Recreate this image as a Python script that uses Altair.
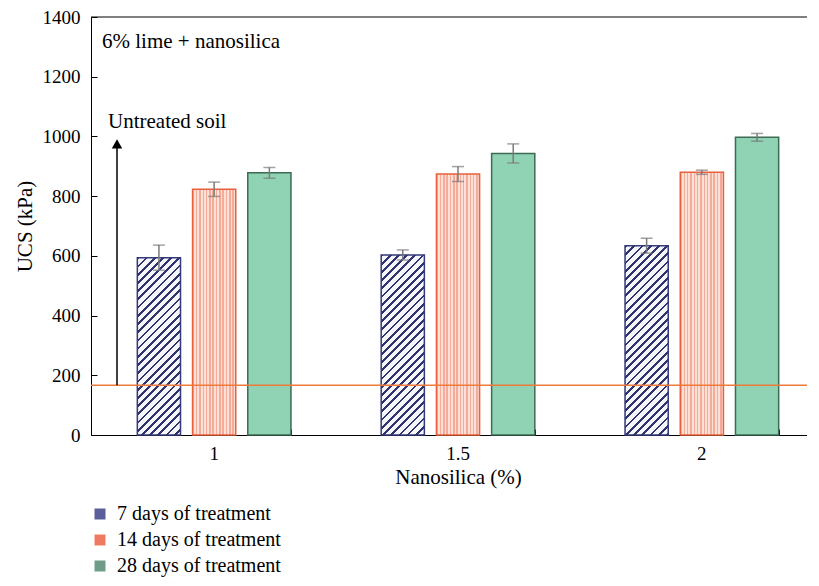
import altair as alt
import pandas as pd

# ---- data ----
nanosilica = ["1", "1.5", "2"]
series = ["7 days of treatment", "14 days of treatment", "28 days of treatment"]
ucs_7 = [594, 603, 634]
err_7 = [42, 17, 25]
ucs_14 = [823, 874, 880]
err_14 = [24, 25, 7]
ucs_28 = [878, 943, 997]
err_28 = [18, 32, 13]
untreated_ucs = 167
y_ticks = [0, 200, 400, 600, 800, 1000, 1200, 1400]
panel_label = "6% lime + nanosilica"
untreated_label = "Untreated soil"
arrow_top = 975
panel_label_y = 1316
untreated_label_y = 1048

rows = []
for s, vals, errs in zip(series, [ucs_7, ucs_14, ucs_28], [err_7, err_14, err_28]):
    for n, v, e in zip(nanosilica, vals, errs):
        rows.append({"Nanosilica": n, "Treatment": s, "UCS": v, "lo": v - e, "hi": v + e})
df = pd.DataFrame(rows)

# ---- style ----
W, H = 716, 418
X_RANGE = 734          # category axis continues past the visible frame (cropped figure)
FONT = "Liberation Serif"
Y_MAX = 1400
X_PAD_IN, X_PAD_OUT = 0.37, 0.19
OFF_PAD_IN = 0.218
legend_colors = ["#5a5f9a", "#ef7a62", "#6f9c88"]

step = X_RANGE / (len(nanosilica) - X_PAD_IN + 2 * X_PAD_OUT)
band = step * (1 - X_PAD_IN)
bar_w = band / (len(series) - OFF_PAD_IN) * (1 - OFF_PAD_IN)

x_scale = alt.Scale(domain=nanosilica, range=[0, X_RANGE],
                    paddingInner=X_PAD_IN, paddingOuter=X_PAD_OUT)
off_scale = alt.Scale(domain=series, paddingInner=OFF_PAD_IN, paddingOuter=0)
y_scale = alt.Scale(domain=[0, Y_MAX], nice=False)


def xenc(axis=None):
    return alt.X("Nanosilica:N", sort=nanosilica, scale=x_scale, axis=axis)


xoff = alt.XOffset("Treatment:N", sort=series, scale=off_scale)


def hatch_gradient(value):
    # diagonal "/" stripes at 45 degrees for a bar of this height
    h = value * H / Y_MAX
    r = h / bar_w
    span = bar_w * (1 + r * r)
    d = 5.8  # stripe period in px
    T = d * 2 ** 0.5 / span
    tmax = (bar_w + h) / span * 1.05
    dark, light = "#2e3470", "#f6f6fa"
    stops = []
    k = 0
    while k * T < min(tmax, 1) and (k + 1) * T <= 1:
        a = k * T
        b = a + 0.34 * T
        c = (k + 1) * T
        stops += [alt.GradientStop(offset=a, color=dark), alt.GradientStop(offset=b, color=dark),
                  alt.GradientStop(offset=b, color=light), alt.GradientStop(offset=c, color=light)]
        k += 1
    return alt.LinearGradient(gradient="linear", x1=0, y1=0, x2=1, y2=r, stops=stops)


def vstripe_gradient():
    n = 13
    T = 1.0 / n
    dark, light = "#f4ac9a", "#fde0d7"
    stops = []
    for k in range(n):
        a = k * T
        b = a + 0.45 * T
        c = (k + 1) * T
        stops += [alt.GradientStop(offset=a, color=dark), alt.GradientStop(offset=b, color=dark),
                  alt.GradientStop(offset=b, color=light), alt.GradientStop(offset=c, color=light)]
    return alt.LinearGradient(gradient="linear", x1=0, y1=0, x2=1, y2=0, stops=stops)


base = alt.Chart(df)

bars = base.mark_bar().encode(
    x=xenc(alt.Axis(title="Nanosilica (%)", labelAngle=0, tickSize=0, labelPadding=9,
                    titlePadding=3, domainColor="black")),
    xOffset=xoff,
    y=alt.Y("UCS:Q", scale=y_scale, stack=None,
            axis=alt.Axis(values=y_ticks, format="d", tickSize=0, labelPadding=11,
                          title="UCS (kPa)", titlePadding=7, domainColor="black", grid=False)),
    fill=alt.Fill("Treatment:N", sort=series,
                  scale=alt.Scale(domain=series, range=legend_colors),
                  legend=alt.Legend(orient="none", legendX=-1, legendY=487, direction="vertical",
                                    title=None, symbolType="square", symbolSize=121,
                                    symbolStrokeWidth=0, labelFont=FONT, labelFontSize=20,
                                    labelColor="black", labelOffset=7, rowPadding=6,
                                    labelLimit=400)),
)

layers = [bars]

# 7-day hatched overlays, one per bar
for n, v in zip(nanosilica, ucs_7):
    layers.append(
        base.transform_filter((alt.datum.Treatment == series[0]) & (alt.datum.Nanosilica == n))
        .mark_bar(fill=hatch_gradient(v), stroke="#343a7a", strokeWidth=1.5)
        .encode(x=xenc(), xOffset=xoff, y=alt.Y("UCS:Q", scale=y_scale, stack=None, axis=None))
    )

layers.append(
    base.transform_filter(alt.datum.Treatment == series[1])
    .mark_bar(fill=vstripe_gradient(), stroke="#e8603c", strokeWidth=1.5)
    .encode(x=xenc(), xOffset=xoff, y=alt.Y("UCS:Q", scale=y_scale, stack=None, axis=None))
)
layers.append(
    base.transform_filter(alt.datum.Treatment == series[2])
    .mark_bar(fill="#8fd3b4", stroke="#3d6b55", strokeWidth=1.5)
    .encode(x=xenc(), xOffset=xoff, y=alt.Y("UCS:Q", scale=y_scale, stack=None, axis=None))
)

# error bars
err_color = "#7a7a7a"
layers.append(
    base.mark_rule(color=err_color, strokeWidth=1.5).encode(
        x=xenc(), xOffset=xoff,
        y=alt.Y("lo:Q", scale=y_scale, axis=None), y2="hi:Q")
)
for fld in ["lo", "hi"]:
    layers.append(
        base.mark_tick(color=err_color, size=12, thickness=1.5).encode(
            x=xenc(), xOffset=xoff, y=alt.Y(f"{fld}:Q", scale=y_scale, axis=None))
    )

# inward ticks (invisible layer carrying extra axes)
layers.append(
    base.mark_bar(opacity=0).encode(
        x=xenc(alt.Axis(orient="top", offset=-H, labels=False, domain=False, tickSize=6,
                        tickBand="extent", tickColor="black", title=None)),
        xOffset=xoff,
        y=alt.Y("UCS:Q", scale=y_scale, stack=None,
                axis=alt.Axis(orient="right", offset=-W, labels=False, domain=False, tickSize=6,
                              values=y_ticks, tickColor="black", grid=False, title=None)),
    )
)

one = pd.DataFrame({"k": [0]})

# top frame line
layers.append(alt.Chart(one).mark_rule(color="black", strokeWidth=1)
              .encode(y=alt.YDatum(Y_MAX, axis=None, scale=y_scale)))
# untreated soil line
layers.append(alt.Chart(one).mark_rule(color="#f07a3a", strokeWidth=1.5)
              .encode(y=alt.YDatum(untreated_ucs, axis=None, scale=y_scale)))
# arrow
layers.append(alt.Chart(one).mark_rule(color="black", strokeWidth=1.5).encode(
    x=alt.value(26), y=alt.YDatum(untreated_ucs, axis=None, scale=y_scale),
    y2=alt.Y2Datum(arrow_top)))
layers.append(alt.Chart(one).mark_point(shape="triangle-up", filled=True, color="black",
                                        size=110, opacity=1).encode(
    x=alt.value(26), y=alt.YDatum(arrow_top, axis=None, scale=y_scale)))

# annotations
layers.append(alt.Chart(pd.DataFrame({"t": [panel_label]}))
              .mark_text(align="left", baseline="middle", font=FONT, fontSize=21, color="black")
              .encode(x=alt.value(11), y=alt.YDatum(panel_label_y, axis=None, scale=y_scale),
                      text="t:N"))
layers.append(alt.Chart(pd.DataFrame({"t": [untreated_label]}))
              .mark_text(align="left", baseline="middle", font=FONT, fontSize=21, color="black")
              .encode(x=alt.value(17), y=alt.YDatum(untreated_label_y, axis=None, scale=y_scale),
                      text="t:N"))

chart = (
    alt.layer(*layers)
    .resolve_axis(x="independent", y="independent")
    .properties(width=W, height=H,
                autosize=alt.AutoSizeParams(type="none"),
                padding={"left": 83, "top": 9, "right": 0, "bottom": 143})
    .configure_view(stroke=None)
    .configure_axis(labelFont=FONT, titleFont=FONT, labelFontSize=19, titleFontSize=21,
                    labelColor="black", titleColor="black", titleFontWeight="normal", grid=False)
)

chart.save("out.html", embed_options={"renderer": "svg", "actions": False})
